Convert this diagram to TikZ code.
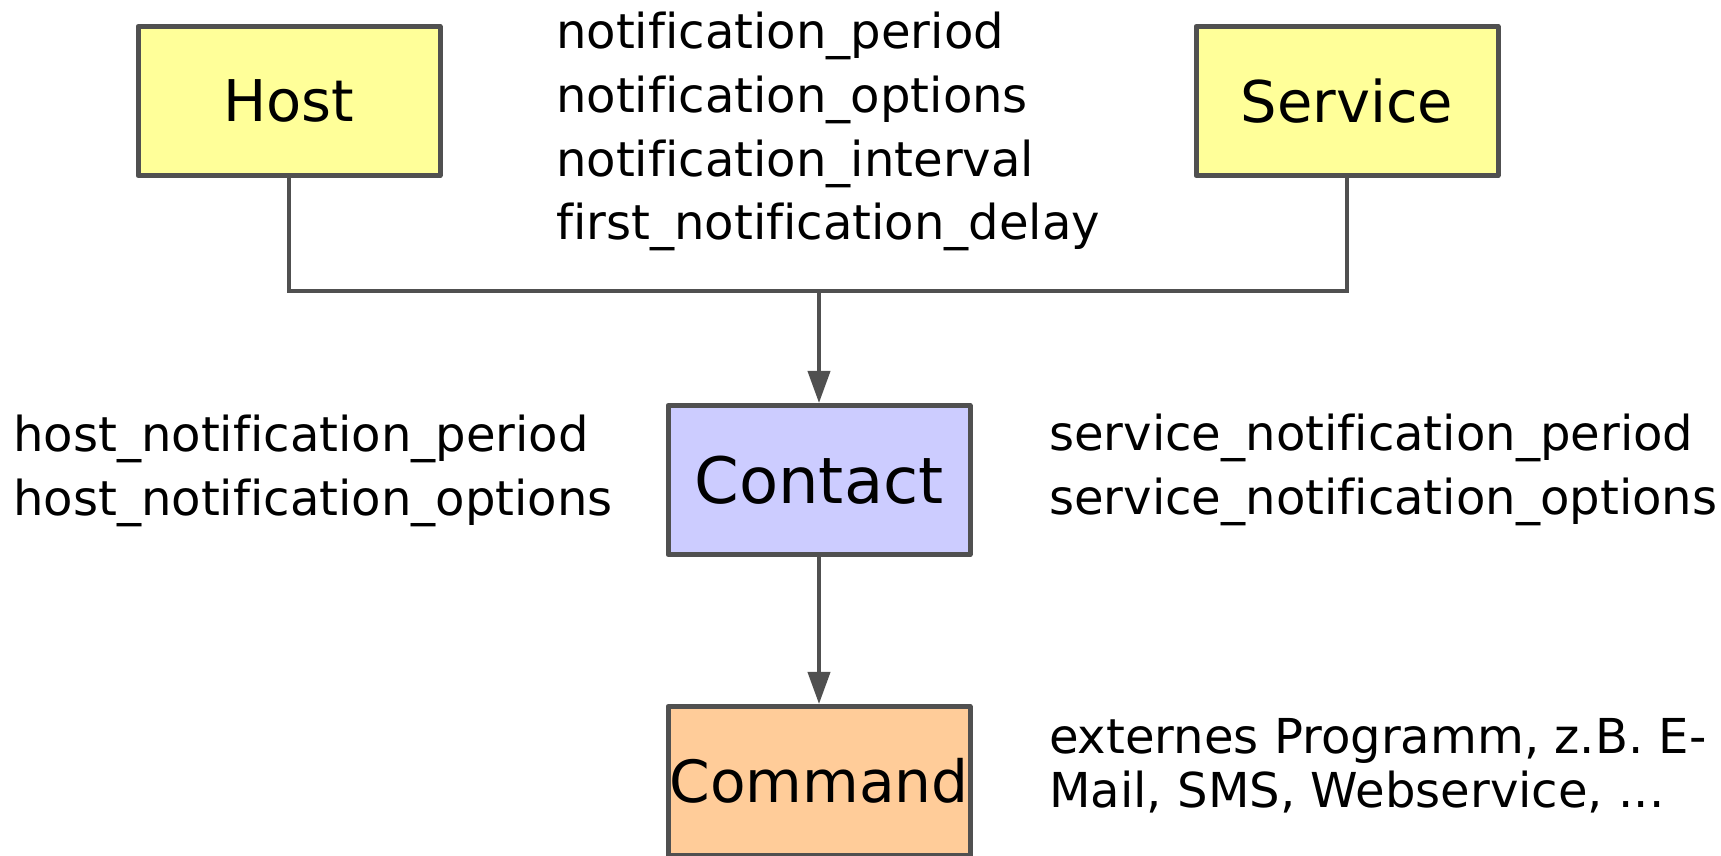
\documentclass[tikz,border=0pt]{standalone}
\usepackage{fontspec}
\setmainfont{DejaVu Sans}[Ligatures=NoCommon]
\usetikzlibrary{arrows.meta,positioning,calc}
\definecolor{edgegray}{HTML}{505050}
\definecolor{objyellow}{HTML}{FFFF99}
\definecolor{contactblue}{HTML}{CCCCFF}
\definecolor{cmdorange}{HTML}{FFCC99}
\tikzstyle{objbox} = [draw=edgegray, line width=5pt, line join=round, rectangle, minimum width=302pt, minimum height=149pt, inner sep=0pt, font=\fontsize{57.5}{69}\selectfont]
\tikzstyle{attrtext} = [inner sep=0pt, align=left, anchor=north west, font=\fontsize{48.1}{63.7}\selectfont]
\tikzstyle{link} = [draw=edgegray, line width=4pt]
\tikzstyle{linkarrow} = [link, -{Triangle[length=32pt,width=22pt]}]

\begin{document}
\begin{tikzpicture}[x=1pt, y=1pt]
\useasboundingbox (0,0) rectangle (1721,856);
\node [objbox, fill=objyellow] (host) at (289,755) {Host};
\node [objbox, fill=objyellow] (service) at (1347,755) {Service};
\node [objbox, fill=contactblue, font=\fontsize{64}{77}\selectfont] (contact) at (819,376) {Contact};
\node [objbox, fill=cmdorange, font=\fontsize{58.2}{70}\selectfont, below=147pt of contact] (command) {Command};

\draw [link] (host.south) -- ++(0,-113) coordinate (hbend) -| (service.south);
\coordinate (join) at (contact.north |- hbend);
\draw [linkarrow] (join) -- (contact.north);
\draw [linkarrow] (contact.south) -- (command.north);

\node [attrtext] (notif) at (556,844) {notification\_period\\notification\_options\\notification\_interval\\first\_notification\_delay};
\node [attrtext] (hostattr) at (13,441) {host\_notification\_period\\host\_notification\_options};
\node [attrtext] (serviceattr) at (1049,442) {service\_notification\_period\\service\_notification\_options};
\node [attrtext, font=\fontsize{48.1}{54.5}\selectfont] (cmdnote) at (1049,138) {externes Programm, z.B. E-\\Mail, SMS, Webservice, ...};
\end{tikzpicture}
\end{document}
